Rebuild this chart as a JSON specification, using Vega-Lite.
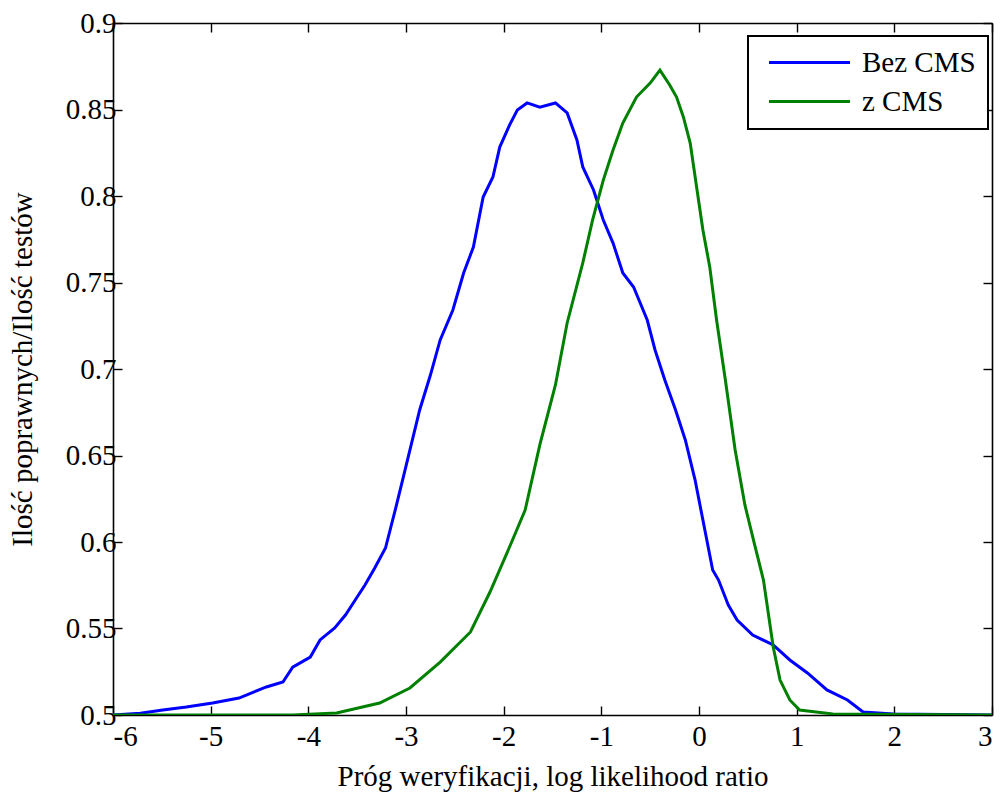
{
  "$schema": "https://vega.github.io/schema/vega-lite/v6.json",
  "width": 879,
  "height": 692,
  "autosize": {"type": "none"},
  "padding": {"left": 113, "top": 23, "right": 10, "bottom": 79},
  "background": "white",
  "config": {
    "font": "'Liberation Serif', 'Times New Roman', serif",
    "view": {"stroke": null},
    "axis": {
      "domainColor": "black",
      "domainWidth": 1.6,
      "tickColor": "black",
      "tickWidth": 1.4,
      "tickSize": -9,
      "grid": false,
      "labelFont": "'Liberation Serif', 'Times New Roman', serif",
      "labelFontSize": 29,
      "labelColor": "black",
      "titleFont": "'Liberation Serif', 'Times New Roman', serif",
      "titleFontSize": 29,
      "titleFontWeight": "normal",
      "titleColor": "black"
    }
  },
  "data": {
    "values": [
      {"series": "Bez CMS", "x": -6.0, "y": 0.5},
      {"series": "Bez CMS", "x": -5.72, "y": 0.501},
      {"series": "Bez CMS", "x": -5.49, "y": 0.5029},
      {"series": "Bez CMS", "x": -5.25, "y": 0.5046},
      {"series": "Bez CMS", "x": -4.98, "y": 0.5069},
      {"series": "Bez CMS", "x": -4.71, "y": 0.5098},
      {"series": "Bez CMS", "x": -4.43, "y": 0.5162},
      {"series": "Bez CMS", "x": -4.26, "y": 0.5191},
      {"series": "Bez CMS", "x": -4.16, "y": 0.5277},
      {"series": "Bez CMS", "x": -3.98, "y": 0.5335},
      {"series": "Bez CMS", "x": -3.88, "y": 0.5434},
      {"series": "Bez CMS", "x": -3.73, "y": 0.5503},
      {"series": "Bez CMS", "x": -3.62, "y": 0.5578},
      {"series": "Bez CMS", "x": -3.52, "y": 0.5665},
      {"series": "Bez CMS", "x": -3.42, "y": 0.5751},
      {"series": "Bez CMS", "x": -3.32, "y": 0.585},
      {"series": "Bez CMS", "x": -3.21, "y": 0.5965},
      {"series": "Bez CMS", "x": -3.11, "y": 0.6185},
      {"series": "Bez CMS", "x": -3.01, "y": 0.6416},
      {"series": "Bez CMS", "x": -2.86, "y": 0.6763},
      {"series": "Bez CMS", "x": -2.75, "y": 0.6965},
      {"series": "Bez CMS", "x": -2.65, "y": 0.7168},
      {"series": "Bez CMS", "x": -2.52, "y": 0.7341},
      {"series": "Bez CMS", "x": -2.41, "y": 0.7555},
      {"series": "Bez CMS", "x": -2.31, "y": 0.7705},
      {"series": "Bez CMS", "x": -2.21, "y": 0.7994},
      {"series": "Bez CMS", "x": -2.11, "y": 0.811},
      {"series": "Bez CMS", "x": -2.04, "y": 0.8283},
      {"series": "Bez CMS", "x": -1.94, "y": 0.841},
      {"series": "Bez CMS", "x": -1.86, "y": 0.8497},
      {"series": "Bez CMS", "x": -1.76, "y": 0.8538},
      {"series": "Bez CMS", "x": -1.63, "y": 0.8514},
      {"series": "Bez CMS", "x": -1.47, "y": 0.8538},
      {"series": "Bez CMS", "x": -1.35, "y": 0.848},
      {"series": "Bez CMS", "x": -1.25, "y": 0.8324},
      {"series": "Bez CMS", "x": -1.19, "y": 0.8168},
      {"series": "Bez CMS", "x": -1.08, "y": 0.8035},
      {"series": "Bez CMS", "x": -0.98, "y": 0.7861},
      {"series": "Bez CMS", "x": -0.88, "y": 0.7728},
      {"series": "Bez CMS", "x": -0.78, "y": 0.7555},
      {"series": "Bez CMS", "x": -0.67, "y": 0.7474},
      {"series": "Bez CMS", "x": -0.53, "y": 0.7283},
      {"series": "Bez CMS", "x": -0.45, "y": 0.711},
      {"series": "Bez CMS", "x": -0.35, "y": 0.6936},
      {"series": "Bez CMS", "x": -0.24, "y": 0.6763},
      {"series": "Bez CMS", "x": -0.14, "y": 0.659},
      {"series": "Bez CMS", "x": -0.04, "y": 0.6358},
      {"series": "Bez CMS", "x": 0.06, "y": 0.6069},
      {"series": "Bez CMS", "x": 0.14, "y": 0.5838},
      {"series": "Bez CMS", "x": 0.2, "y": 0.578},
      {"series": "Bez CMS", "x": 0.3, "y": 0.5636},
      {"series": "Bez CMS", "x": 0.39, "y": 0.5549},
      {"series": "Bez CMS", "x": 0.55, "y": 0.5462},
      {"series": "Bez CMS", "x": 0.76, "y": 0.5405},
      {"series": "Bez CMS", "x": 0.93, "y": 0.5318},
      {"series": "Bez CMS", "x": 1.11, "y": 0.5243},
      {"series": "Bez CMS", "x": 1.31, "y": 0.5145},
      {"series": "Bez CMS", "x": 1.52, "y": 0.5087},
      {"series": "Bez CMS", "x": 1.68, "y": 0.5017},
      {"series": "Bez CMS", "x": 1.99, "y": 0.5006},
      {"series": "Bez CMS", "x": 3.0, "y": 0.5},
      {"series": "z CMS", "x": -6.0, "y": 0.5},
      {"series": "z CMS", "x": -4.16, "y": 0.5},
      {"series": "z CMS", "x": -3.71, "y": 0.5012},
      {"series": "z CMS", "x": -3.27, "y": 0.5069},
      {"series": "z CMS", "x": -2.96, "y": 0.5156},
      {"series": "z CMS", "x": -2.65, "y": 0.5306},
      {"series": "z CMS", "x": -2.34, "y": 0.548},
      {"series": "z CMS", "x": -2.14, "y": 0.5711},
      {"series": "z CMS", "x": -1.94, "y": 0.5971},
      {"series": "z CMS", "x": -1.78, "y": 0.6185},
      {"series": "z CMS", "x": -1.63, "y": 0.6561},
      {"series": "z CMS", "x": -1.47, "y": 0.6908},
      {"series": "z CMS", "x": -1.35, "y": 0.7266},
      {"series": "z CMS", "x": -1.19, "y": 0.7613},
      {"series": "z CMS", "x": -1.09, "y": 0.7861},
      {"series": "z CMS", "x": -0.98, "y": 0.8092},
      {"series": "z CMS", "x": -0.88, "y": 0.8266},
      {"series": "z CMS", "x": -0.78, "y": 0.8422},
      {"series": "z CMS", "x": -0.64, "y": 0.8572},
      {"series": "z CMS", "x": -0.5, "y": 0.8653},
      {"series": "z CMS", "x": -0.4, "y": 0.8728},
      {"series": "z CMS", "x": -0.3, "y": 0.8642},
      {"series": "z CMS", "x": -0.23, "y": 0.8572},
      {"series": "z CMS", "x": -0.16, "y": 0.8457},
      {"series": "z CMS", "x": -0.09, "y": 0.8306},
      {"series": "z CMS", "x": -0.02, "y": 0.8035},
      {"series": "z CMS", "x": 0.04, "y": 0.7803},
      {"series": "z CMS", "x": 0.11, "y": 0.759},
      {"series": "z CMS", "x": 0.18, "y": 0.7283},
      {"series": "z CMS", "x": 0.27, "y": 0.6936},
      {"series": "z CMS", "x": 0.37, "y": 0.6532},
      {"series": "z CMS", "x": 0.47, "y": 0.6214},
      {"series": "z CMS", "x": 0.57, "y": 0.5983},
      {"series": "z CMS", "x": 0.66, "y": 0.578},
      {"series": "z CMS", "x": 0.76, "y": 0.5393},
      {"series": "z CMS", "x": 0.83, "y": 0.5202},
      {"series": "z CMS", "x": 0.93, "y": 0.5087},
      {"series": "z CMS", "x": 1.03, "y": 0.5029},
      {"series": "z CMS", "x": 1.37, "y": 0.5006},
      {"series": "z CMS", "x": 3.0, "y": 0.5}
    ]
  },
  "layer": [
    {
      "mark": {"type": "line", "strokeWidth": 3, "clip": true},
      "encoding": {
        "x": {
          "field": "x",
          "type": "quantitative",
          "scale": {"domain": [-6, 3], "nice": false, "zero": false},
          "axis": {
            "orient": "bottom",
            "values": [-6, -5, -4, -3, -2, -1, 0, 1, 2, 3],
            "labelExpr": "datum.value + ''",
            "labelPadding": 16,
            "title": "Próg weryfikacji, log likelihood ratio",
            "titlePadding": 11
          }
        },
        "y": {
          "field": "y",
          "type": "quantitative",
          "scale": {"domain": [0.5, 0.9], "nice": false, "zero": false},
          "axis": {
            "orient": "left",
            "values": [0.5, 0.55, 0.6, 0.65, 0.7, 0.75, 0.8, 0.85, 0.9],
            "labelExpr": "datum.value + ''",
            "labelPadding": 6,
            "title": "Ilość poprawnych/Ilość testów",
            "titlePadding": 28
          }
        },
        "color": {
          "field": "series",
          "type": "nominal",
          "scale": {"domain": ["Bez CMS", "z CMS"], "range": ["#0000ff", "#008000"]},
          "legend": {
            "orient": "none",
            "legendX": 635,
            "legendY": 13,
            "title": null,
            "symbolType": "M-4,0H4",
            "symbolSize": 410,
            "symbolStrokeWidth": 3,
            "symbolOffset": 35,
            "labelFont": "'Liberation Serif', 'Times New Roman', serif",
            "labelFontSize": 29,
            "labelColor": "black",
            "labelOffset": 38,
            "rowPadding": 9,
            "padding": 12,
            "strokeColor": "black",
            "fillColor": "white",
            "encode": {"legend": {"update": {"strokeWidth": {"value": 2}}}}
          }
        }
      }
    },
    {
      "mark": {"type": "line", "strokeOpacity": 0},
      "encoding": {
        "x": {
          "field": "x",
          "type": "quantitative",
          "axis": {
            "orient": "top",
            "values": [-6, -5, -4, -3, -2, -1, 0, 1, 2, 3],
            "labels": false,
            "title": null
          }
        },
        "y": {
          "field": "y",
          "type": "quantitative",
          "axis": {
            "orient": "right",
            "values": [0.5, 0.55, 0.6, 0.65, 0.7, 0.75, 0.8, 0.85, 0.9],
            "labels": false,
            "title": null
          }
        },
        "detail": {"field": "series", "type": "nominal"}
      }
    }
  ],
  "resolve": {"axis": {"x": "independent", "y": "independent"}}
}
